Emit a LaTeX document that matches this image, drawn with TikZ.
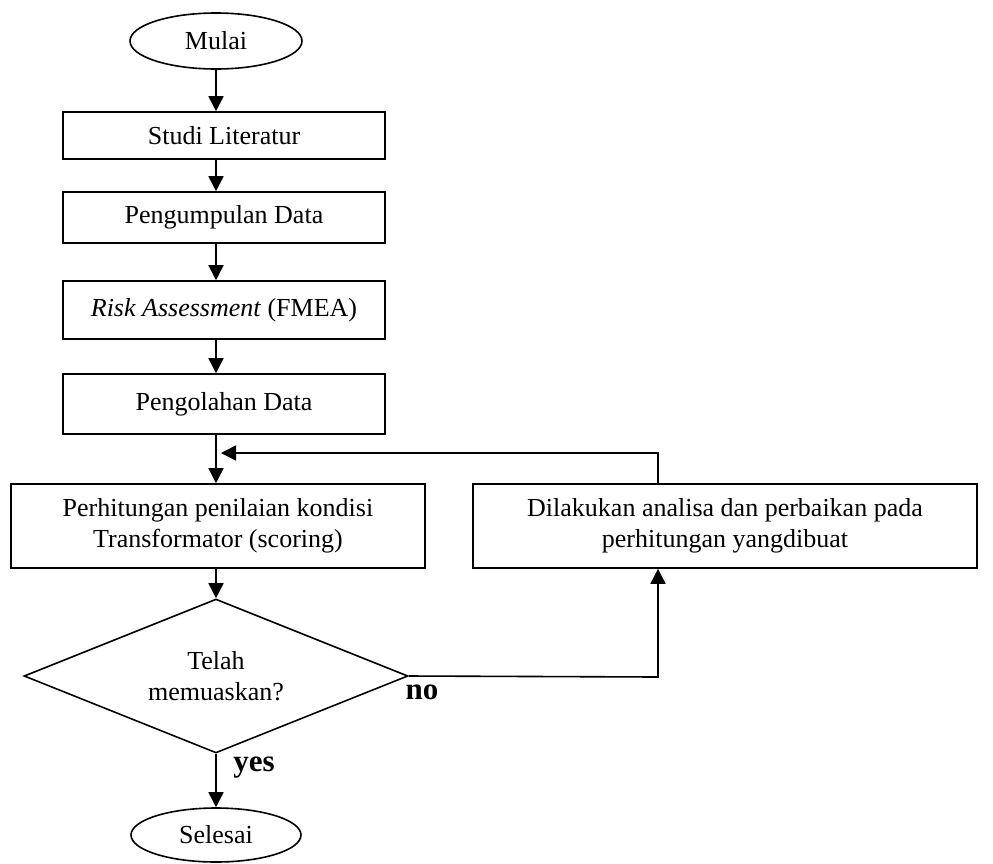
\documentclass[tikz,border=0pt]{standalone}
\usepackage{fontspec}
\setmainfont{Liberation Serif}
\usetikzlibrary{shapes.geometric,arrows.meta}
\begin{document}
\begin{tikzpicture}[x=1pt,y=-1pt,
  every node/.style={font=\fontsize{26}{31}\selectfont},
  procbox/.style={draw,line width=1.6pt,rectangle,inner sep=0pt,align=center},
  term/.style={draw,line width=1.6pt,ellipse,inner sep=0pt,minimum width=172pt,minimum height=56pt},
  decision/.style={draw,line width=1.6pt,diamond,shape aspect=2.5,inner sep=0pt,align=center,minimum width=384pt,minimum height=154pt},
  conn/.style={line width=1.6pt,-{Triangle[length=15pt,width=15pt]}},
  plain/.style={line width=1.6pt},
  lbl/.style={font=\fontsize{31}{36}\selectfont\bfseries}
]
\useasboundingbox (0,0) rectangle (993,863);
\node[term] (mulai) at (216,41) {Mulai};
\node[procbox,minimum width=322pt,minimum height=47pt] (studi) at (224,135.5) {Studi Literatur};
\node[procbox,minimum width=322pt,minimum height=51pt] (peng) at (224,217.5) {Pengumpulan Data};
\node[procbox,minimum width=322pt,minimum height=58pt] (risk) at (224,310) {\textit{Risk Assessment} (FMEA)};
\node[procbox,minimum width=322pt,minimum height=60pt] (olah) at (224,404) {Pengolahan Data};
\node[procbox,minimum width=414pt,minimum height=84pt] (hitung) at (218,526) {Perhitungan penilaian kondisi\\Transformator (scoring)};
\node[procbox,minimum width=504pt,minimum height=84pt] (analisa) at (725,526) {Dilakukan analisa dan perbaikan pada\\perhitungan yangdibuat};
\node[decision] (dec) at (216,676) {Telah\\memuaskan?};
\node[term,minimum width=170pt,minimum height=54pt] (selesai) at (216,835) {Selesai};
\node[lbl] (no) at (422,692) {no};
\node[lbl] (yes) at (254,768) {yes};
\coordinate (fbtop) at (658,453);
\coordinate (fbin) at (221,453);
\coordinate (upx) at (658,677);

\draw[conn] (mulai.south) -- (mulai.south |- studi.north);
\draw[conn] (mulai.south |- studi.south) -- (mulai.south |- peng.north);
\draw[conn] (mulai.south |- peng.south) -- (mulai.south |- risk.north);
\draw[conn] (mulai.south |- risk.south) -- (mulai.south |- olah.north);
\draw[conn] (mulai.south |- olah.south) -- (mulai.south |- hitung.north);
\draw[conn] (mulai.south |- hitung.south) -- (dec.north);
\draw[conn] (dec.south) -- (selesai.north);
\draw[conn] (dec.east) -- (upx) -- (upx |- analisa.south);
\draw[conn] (fbtop |- analisa.north) -- (fbtop) -- (fbin);
\end{tikzpicture}
\end{document}
